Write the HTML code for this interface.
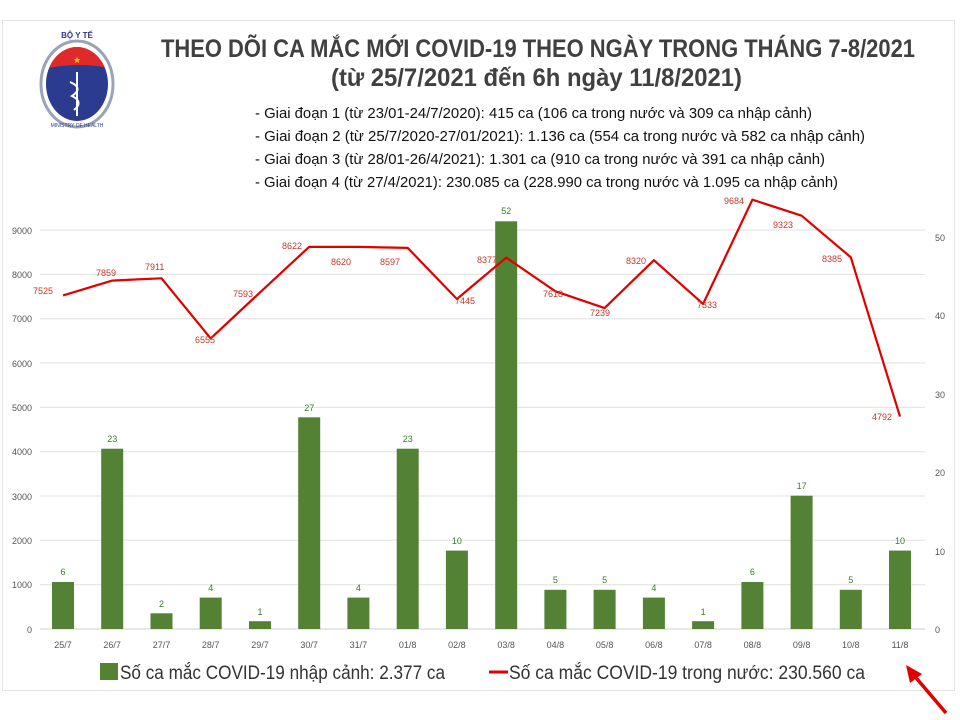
<!DOCTYPE html>
<html><head><meta charset="utf-8"><style>
html,body{margin:0;padding:0;background:#fff;}
svg{display:block;font-family:"Liberation Sans",sans-serif;}
</style></head><body>
<svg width="960" height="720" viewBox="0 0 960 720" xmlns="http://www.w3.org/2000/svg">
<defs><clipPath id="lc"><ellipse cx="77" cy="84" rx="31" ry="37"/></clipPath></defs>
<rect x="2.5" y="20.5" width="952" height="670" fill="#fff" stroke="#e3e3e3"/>
<!-- logo -->
<g>
<ellipse cx="77" cy="84" rx="36" ry="43" fill="none" stroke="#9aa3b5" stroke-width="3"/>
<g clip-path="url(#lc)">
<rect x="40" y="40" width="80" height="90" fill="#2b3b8f"/>
<path d="M40 40 H120 V70 Q77 60 40 70Z" fill="#e02a2a"/>
</g>
<text x="77" y="63" font-size="9" fill="#f5d000" text-anchor="middle">★</text>
<line x1="77" y1="72" x2="77" y2="116" stroke="#fff" stroke-width="2"/>
<path d="M70 82 Q84 88 72 96 Q84 102 74 110" fill="none" stroke="#fff" stroke-width="2"/>
<text x="77" y="38" font-size="8" fill="#2b3b8f" text-anchor="middle" font-weight="bold">BỘ Y TẾ</text>
<text x="77" y="127" font-size="5" fill="#2b3b8f" text-anchor="middle">MINISTRY OF HEALTH</text>
</g>
<!-- titles -->
<text x="161" y="57" font-size="25" font-weight="bold" fill="#404040" textLength="754" lengthAdjust="spacingAndGlyphs">THEO DÕI CA MẮC MỚI COVID-19 THEO NGÀY TRONG THÁNG 7-8/2021</text>
<text x="331" y="86" font-size="25" font-weight="bold" fill="#404040" textLength="411" lengthAdjust="spacingAndGlyphs">(từ 25/7/2021 đến 6h ngày 11/8/2021)</text>
<g font-size="15" fill="#111">
<text x="255" y="118" textLength="557" lengthAdjust="spacingAndGlyphs">- Giai đoạn 1 (từ 23/01-24/7/2020): 415 ca (106 ca trong nước và 309 ca nhập cảnh)</text>
<text x="255" y="141" textLength="610" lengthAdjust="spacingAndGlyphs">- Giai đoạn 2 (từ 25/7/2020-27/01/2021): 1.136 ca (554 ca trong nước và 582 ca nhập cảnh)</text>
<text x="255" y="164" textLength="570" lengthAdjust="spacingAndGlyphs">- Giai đoạn 3 (từ 28/01-26/4/2021): 1.301 ca (910 ca trong nước và 391 ca nhập cảnh)</text>
<text x="255" y="187" textLength="583" lengthAdjust="spacingAndGlyphs">- Giai đoạn 4 (từ 27/4/2021): 230.085 ca (228.990 ca trong nước và 1.095 ca nhập cảnh)</text>
</g>
<!-- gridlines -->
<g stroke="#e0e0e0" stroke-width="1">
<line x1="40" y1="230" x2="925" y2="230"/><line x1="40" y1="274.4" x2="925" y2="274.4"/>
<line x1="40" y1="318.7" x2="925" y2="318.7"/><line x1="40" y1="363" x2="925" y2="363"/>
<line x1="40" y1="407.4" x2="925" y2="407.4"/><line x1="40" y1="451.7" x2="925" y2="451.7"/>
<line x1="40" y1="496" x2="925" y2="496"/><line x1="40" y1="540.3" x2="925" y2="540.3"/>
<line x1="40" y1="584.7" x2="925" y2="584.7"/>
</g>
<line x1="40" y1="629" x2="925" y2="629" stroke="#cfcfcf"/>
<!-- axis labels -->
<g font-size="9" fill="#555" text-anchor="end">
<text x="32" y="633">0</text><text x="32" y="588">1000</text><text x="32" y="544">2000</text>
<text x="32" y="500">3000</text><text x="32" y="455">4000</text><text x="32" y="411">5000</text>
<text x="32" y="367">6000</text><text x="32" y="322">7000</text><text x="32" y="278">8000</text>
<text x="32" y="234">9000</text>
</g>
<g font-size="9" fill="#555">
<text x="935" y="633">0</text><text x="935" y="555">10</text><text x="935" y="476">20</text>
<text x="935" y="398">30</text><text x="935" y="319">40</text><text x="935" y="241">50</text>
</g>
<!-- bars -->
<g fill="#548235">
<rect x="52" y="582" width="22" height="47"/>
<rect x="101.2" y="448.7" width="22" height="180.3"/>
<rect x="150.5" y="613.3" width="22" height="15.7"/>
<rect x="199.7" y="597.6" width="22" height="31.4"/>
<rect x="249" y="621.2" width="22" height="7.8"/>
<rect x="298.2" y="417.3" width="22" height="211.7"/>
<rect x="347.4" y="597.6" width="22" height="31.4"/>
<rect x="396.7" y="448.7" width="22" height="180.3"/>
<rect x="445.9" y="550.6" width="22" height="78.4"/>
<rect x="495.2" y="221.3" width="22" height="407.7"/>
<rect x="544.4" y="589.8" width="22" height="39.2"/>
<rect x="593.6" y="589.8" width="22" height="39.2"/>
<rect x="642.9" y="597.6" width="22" height="31.4"/>
<rect x="692.1" y="621.2" width="22" height="7.8"/>
<rect x="741.4" y="582" width="22" height="47"/>
<rect x="790.6" y="495.7" width="22" height="133.3"/>
<rect x="839.8" y="589.8" width="22" height="39.2"/>
<rect x="889" y="550.6" width="22" height="78.4"/>
</g>
<g font-size="9" fill="#3a7a2a" text-anchor="middle">
<text x="63" y="575">6</text><text x="112.2" y="442">23</text><text x="161.5" y="607">2</text>
<text x="210.7" y="591">4</text><text x="260" y="615">1</text><text x="309.2" y="411">27</text>
<text x="358.4" y="591">4</text><text x="407.7" y="442">23</text><text x="456.9" y="544">10</text>
<text x="506.2" y="214">52</text><text x="555.4" y="583">5</text><text x="604.6" y="583">5</text>
<text x="653.9" y="591">4</text><text x="703.1" y="615">1</text><text x="752.4" y="575">6</text>
<text x="801.6" y="489">17</text><text x="850.8" y="583">5</text><text x="900" y="544">10</text>
</g>
<!-- line -->
<polyline fill="none" stroke="#e00000" stroke-width="2.2" stroke-linejoin="round" points="63,295.4 112.2,280.6 161.5,278.3 210.7,338.4 260,292.4 309.2,246.8 358.4,246.9 407.7,247.9 456.9,299 506.2,257.6 555.4,291.3 604.6,308.1 653.9,260.2 703.1,303.9 752.4,199.7 801.6,215.7 850.8,257.3 900,416.6"/>
<g font-size="9" fill="#c0392b">
<text x="33" y="294">7525</text><text x="96" y="276">7859</text><text x="145" y="270">7911</text>
<text x="195" y="343">6555</text><text x="233" y="297">7593</text><text x="282" y="249">8622</text>
<text x="331" y="265">8620</text><text x="380" y="265">8597</text><text x="455" y="304">7445</text>
<text x="477" y="263">8377</text><text x="543" y="297">7618</text><text x="590" y="316">7239</text>
<text x="626" y="264">8320</text><text x="697" y="308">7333</text><text x="724" y="204">9684</text>
<text x="773" y="228">9323</text><text x="822" y="262">8385</text><text x="872" y="420">4792</text>
</g>
<!-- x labels -->
<g font-size="9" fill="#555" text-anchor="middle">
<text x="63" y="648">25/7</text><text x="112.2" y="648">26/7</text><text x="161.5" y="648">27/7</text>
<text x="210.7" y="648">28/7</text><text x="260" y="648">29/7</text><text x="309.2" y="648">30/7</text>
<text x="358.4" y="648">31/7</text><text x="407.7" y="648">01/8</text><text x="456.9" y="648">02/8</text>
<text x="506.2" y="648">03/8</text><text x="555.4" y="648">04/8</text><text x="604.6" y="648">05/8</text>
<text x="653.9" y="648">06/8</text><text x="703.1" y="648">07/8</text><text x="752.4" y="648">08/8</text>
<text x="801.6" y="648">09/8</text><text x="850.8" y="648">10/8</text><text x="900" y="648">11/8</text>
</g>
<!-- legend -->
<rect x="100" y="663" width="18" height="17" fill="#548235"/>
<text x="120" y="679" font-size="19" fill="#333" textLength="325" lengthAdjust="spacingAndGlyphs">Số ca mắc COVID-19 nhập cảnh: 2.377 ca</text>
<line x1="489" y1="672" x2="508" y2="672" stroke="#e00000" stroke-width="3"/>
<text x="509" y="679" font-size="19" fill="#333" textLength="356" lengthAdjust="spacingAndGlyphs">Số ca mắc COVID-19 trong nước: 230.560 ca</text>
<!-- arrow -->
<line x1="946" y1="713" x2="912" y2="673" stroke="#e00000" stroke-width="3.5"/>
<polygon points="906,665 922,674 910,683" fill="#e00000"/>
</svg>
</body></html>
